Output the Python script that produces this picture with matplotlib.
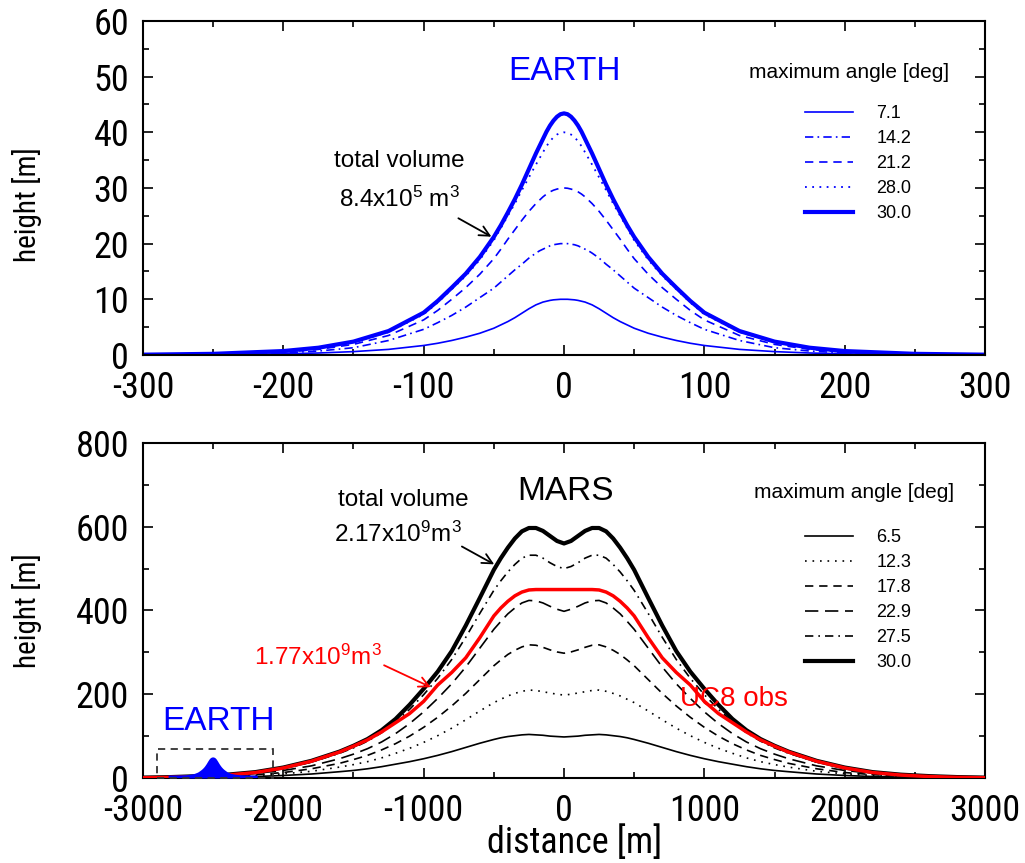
import numpy as np
import matplotlib
matplotlib.use("Agg")
import matplotlib.pyplot as plt
from matplotlib.patches import Rectangle
from matplotlib.ticker import MultipleLocator
from matplotlib import font_manager

plt.rcParams['font.family'] = ['Liberation Sans', 'DejaVu Sans']
plt.rcParams['mathtext.fontset'] = 'custom'
plt.rcParams['mathtext.rm'] = 'Liberation Sans'
plt.rcParams['mathtext.it'] = 'Liberation Sans:italic'
plt.rcParams['axes.unicode_minus'] = False

_names = {f.name for f in font_manager.fontManager.ttflist}
if 'Liberation Sans Narrow' in _names:
    NARROW, TICK_SIZE, YLAB_SIZE, XLAB_SIZE = ['Liberation Sans Narrow'], 27, 22, 27
elif 'Roboto Condensed' in _names:
    NARROW, TICK_SIZE, YLAB_SIZE, XLAB_SIZE = ['Roboto Condensed'], 26, 21, 26
else:
    NARROW, TICK_SIZE, YLAB_SIZE, XLAB_SIZE = ['Liberation Sans'], 23, 19, 24

# ---------------- data: EARTH (half profiles, symmetric about 0) -------------
x_half_earth = [0, 2.5, 5, 7.5, 10, 12.5, 15, 17.5, 20, 25, 30, 35, 40, 45, 50,
                60, 70, 80, 90, 100, 125, 150, 175, 200, 250, 300]
earth_labels = ['7.1', '14.2', '21.2', '28.0', '30.0']
earth_7_1 = [10.0, 10.0, 9.95, 9.9, 9.8, 9.65, 9.5, 9.25, 9.0, 8.3, 7.5, 6.7, 6.0, 5.4, 4.8,
             3.9, 3.2, 2.6, 2.1, 1.7, 1.0, 0.6, 0.35, 0.2, 0.06, 0.02]
earth_14_2 = [20.0, 20.0, 19.9, 19.8, 19.6, 19.3, 19.0, 18.7, 18.3, 17.4, 16.3, 15.3, 14.2, 13.1, 12.0,
              10.3, 8.6, 7.1, 5.8, 4.6, 2.6, 1.3, 0.7, 0.35, 0.1, 0.02]
earth_21_2 = [30.0, 29.95, 29.8, 29.6, 29.3, 28.9, 28.4, 27.8, 27.2, 25.8, 24.2, 22.5, 20.8, 19.0, 17.3,
              14.5, 12.1, 10.0, 8.0, 6.3, 3.5, 1.9, 1.0, 0.5, 0.15, 0.03]
earth_28_0 = [40.0, 39.9, 39.6, 39.1, 38.4, 37.5, 36.4, 35.3, 34.2, 31.9, 29.6, 27.2, 25.0, 22.8, 20.6,
              17.1, 14.2, 11.8, 9.4, 7.3, 4.1, 2.3, 1.2, 0.65, 0.2, 0.05]
earth_30_0 = [43.4, 43.25, 42.8, 42.1, 41.2, 40.1, 38.8, 37.5, 36.2, 33.4, 30.6, 28.0, 25.6, 23.3, 21.2,
              17.6, 14.6, 12.1, 9.7, 7.6, 4.3, 2.4, 1.3, 0.7, 0.2, 0.05]

# ---------------- data: MARS (half profiles, symmetric about 0) --------------
x_half_mars = [0, 50, 100, 150, 200, 250, 300, 350, 400, 450, 500, 600, 700, 800, 900, 1000,
               1100, 1200, 1300, 1400, 1500, 1600, 1800, 2000, 2200, 2400, 2600, 2800, 3000]
mars_labels = ['6.5', '12.3', '17.8', '22.9', '27.5', '30.0']
mars_6_5 = [98, 99, 100, 102, 103, 104, 103, 101, 99, 96, 92, 83, 73, 63, 54, 46,
            39, 33, 27, 22, 18, 15, 9.5, 6, 3.5, 2, 1.2, 0.6, 0.3]
mars_12_3 = [198, 200, 203, 206, 209, 210, 207, 202, 196, 188, 180, 160, 139, 119, 101, 85,
             71, 59, 48, 39, 32, 26, 16, 10, 6, 3.5, 2, 1, 0.5]
mars_17_8 = [298, 301, 306, 312, 317, 318, 313, 305, 295, 282, 268, 235, 202, 172, 145, 121,
             100, 82, 67, 54, 44, 35, 22, 13, 8, 4.5, 2.5, 1.2, 0.5]
mars_22_9 = [398, 403, 410, 418, 423, 424, 418, 406, 392, 374, 355, 310, 265, 225, 190, 158,
             130, 106, 86, 70, 57, 46, 29, 18, 11, 6, 3, 1.5, 0.7]
mars_27_5 = [500, 505, 514, 525, 532, 532, 525, 510, 492, 471, 448, 393, 336, 283, 238, 199,
             164, 134, 108, 88, 72, 59, 38, 23, 13, 7.5, 4, 2, 1]
mars_30_0 = [560, 566, 578, 590, 597, 597, 589, 572, 550, 525, 497, 430, 364, 303, 254, 213,
             175, 141, 114, 93, 77, 63, 41, 25, 14, 8, 4.5, 2.2, 1]
uc8_obs = [450, 450, 450, 450, 450, 449, 444, 435, 422, 406, 387, 335, 287, 252, 222, 183,
           154, 132, 110, 91, 76, 62, 40, 24, 13, 7, 3.5, 1.5, 0.5]

earth_offset_on_mars = -2500
inset_box_x = [-2900, -2075]
inset_box_y = [0, 70]


def full(xh, yh):
    xh = np.asarray(xh, float)
    yh = np.asarray(yh, float)
    return np.concatenate([-xh[::-1], xh[1:]]), np.concatenate([yh[::-1], yh[1:]])


BLUE = '#0000ff'
RED = '#ff0000'

fig = plt.figure(figsize=(10.25, 8.63), dpi=100)
ax1 = fig.add_axes([0.1395, 0.5887, 0.8215, 0.3870])
ax2 = fig.add_axes([0.1395, 0.0985, 0.8215, 0.3882])

earth_series = [earth_7_1, earth_14_2, earth_21_2, earth_28_0, earth_30_0]
earth_styles = [dict(ls='-', lw=1.2),
                dict(ls=(0, (5, 2.5, 1, 2.5)), lw=1.2),
                dict(ls=(0, (5, 3.5)), lw=1.2),
                dict(ls=(0, (1, 3)), lw=1.3),
                dict(ls='-', lw=3.0)]

mars_series = [mars_6_5, mars_12_3, mars_17_8, mars_22_9, mars_27_5, mars_30_0]
mars_styles = [dict(ls='-', lw=1.2),
               dict(ls=(0, (1, 3.5)), lw=1.2),
               dict(ls=(0, (5, 3.5)), lw=1.2),
               dict(ls=(0, (8, 4)), lw=1.2),
               dict(ls=(0, (5, 3, 1, 3)), lw=1.2),
               dict(ls='-', lw=3.0)]

# ---------------- top panel ----------------
h1 = []
for yv, st, lab in zip(earth_series, earth_styles, earth_labels):
    xx, yy = full(x_half_earth, yv)
    ln, = ax1.plot(xx, yy, color=BLUE, label=lab, solid_joinstyle='round', **st)
    h1.append(ln)

ax1.set_xlim(-300, 300)
ax1.set_ylim(0, 60)
ax1.xaxis.set_major_locator(MultipleLocator(100))
ax1.xaxis.set_minor_locator(MultipleLocator(50))
ax1.yaxis.set_major_locator(MultipleLocator(10))
ax1.yaxis.set_minor_locator(MultipleLocator(5))

ax1.text(0, 51, 'EARTH', color=BLUE, fontsize=24, ha='center', va='center')
ax1.text(-117, 34.8, 'total volume', fontsize=17.5, ha='center', va='center')
ax1.text(-117, 28.0, r'8.4x10$^{5}$ m$^{3}$', fontsize=17.5, ha='center', va='center')
ax1.annotate('', xy=(-50, 21.0), xytext=(-77, 24.8),
             arrowprops=dict(arrowstyle='->', color='black', lw=1.3, mutation_scale=18))

ax1.text(0.8385, 0.845, 'maximum angle [deg]', transform=ax1.transAxes,
         fontsize=15, ha='center', va='center')
ax1.legend(handles=h1, loc='upper left', bbox_to_anchor=(0.786, 0.747),
           frameon=False, fontsize=13, handlelength=2.66, handletextpad=1.3,
           labelspacing=0.44, borderpad=0, borderaxespad=0)

# ---------------- bottom panel ----------------
h2 = []
for yv, st, lab in zip(mars_series, mars_styles, mars_labels):
    xx, yy = full(x_half_mars, yv)
    ln, = ax2.plot(xx, yy, color='black', label=lab, solid_joinstyle='round', **st)
    h2.append(ln)
xr, yr = full(x_half_mars, uc8_obs)
ax2.plot(xr, yr, color=RED, lw=2.5, zorder=3, solid_joinstyle='round')

# Earth profile drawn to scale on the Mars axes
xe, ye = full(x_half_earth, earth_30_0)
ax2.fill_between(xe + earth_offset_on_mars, 0, ye, color=BLUE, lw=0, zorder=4)
ax2.plot(xe + earth_offset_on_mars, ye, color=BLUE, lw=3.5, zorder=4)
ax2.add_patch(Rectangle((inset_box_x[0], inset_box_y[0]), inset_box_x[1] - inset_box_x[0],
                        inset_box_y[1] - inset_box_y[0], fill=False, ls=(0, (4, 3)),
                        lw=1.3, edgecolor='#333333', zorder=5, clip_on=False))
ax2.text(-2465, 134, 'EARTH', color=BLUE, fontsize=24, ha='center', va='center')

ax2.set_xlim(-3000, 3000)
ax2.set_ylim(0, 800)
ax2.xaxis.set_major_locator(MultipleLocator(1000))
ax2.xaxis.set_minor_locator(MultipleLocator(500))
ax2.yaxis.set_major_locator(MultipleLocator(200))
ax2.yaxis.set_minor_locator(MultipleLocator(100))

ax2.text(14, 683, 'MARS', fontsize=24, ha='center', va='center')
ax2.text(-1147, 664, 'total volume', fontsize=17.5, ha='center', va='center')
ax2.text(-1187, 582, r'2.17x10$^{9}$m$^{3}$', fontsize=17.5, ha='center', va='center')
ax2.annotate('', xy=(-480, 507), xytext=(-745, 556),
             arrowprops=dict(arrowstyle='->', color='black', lw=1.3, mutation_scale=18))
ax2.text(-1753, 288, r'1.77x10$^{9}$m$^{3}$', fontsize=17.5, color=RED, ha='center', va='center')
ax2.annotate('', xy=(-931, 214), xytext=(-1300, 272),
             arrowprops=dict(arrowstyle='->', color=RED, lw=1.3, mutation_scale=18))
ax2.text(1211, 189, 'UC8 obs', fontsize=20, color=RED, ha='center', va='center')

ax2.text(0.845, 0.851, 'maximum angle [deg]', transform=ax2.transAxes,
         fontsize=15, ha='center', va='center')
ax2.legend(handles=h2, loc='upper left', bbox_to_anchor=(0.786, 0.742),
           frameon=False, fontsize=13, handlelength=2.66, handletextpad=1.3,
           labelspacing=0.44, borderpad=0, borderaxespad=0)

for ax, ylab_y in ((ax1, 0.45), (ax2, 0.5)):
    for sp in ax.spines.values():
        sp.set_linewidth(1.5)
    ax.tick_params(which='both', direction='in', top=True, right=True, width=1.2)
    ax.tick_params(which='major', length=7.5, pad=10, labelsize=TICK_SIZE)
    ax.tick_params(axis='x', which='major', pad=11)
    ax.tick_params(which='minor', length=4)
    for lab in ax.get_xticklabels() + ax.get_yticklabels():
        lab.set_family(NARROW)
    ax.set_ylabel('height [m]', fontsize=YLAB_SIZE, family=NARROW)
    ax.yaxis.set_label_coords(-0.12, ylab_y)

ax2.set_xlabel('distance [m]', fontsize=XLAB_SIZE, family=NARROW)
ax2.xaxis.set_label_coords(0.512, -0.14)

fig.savefig('out.png', dpi=100)
